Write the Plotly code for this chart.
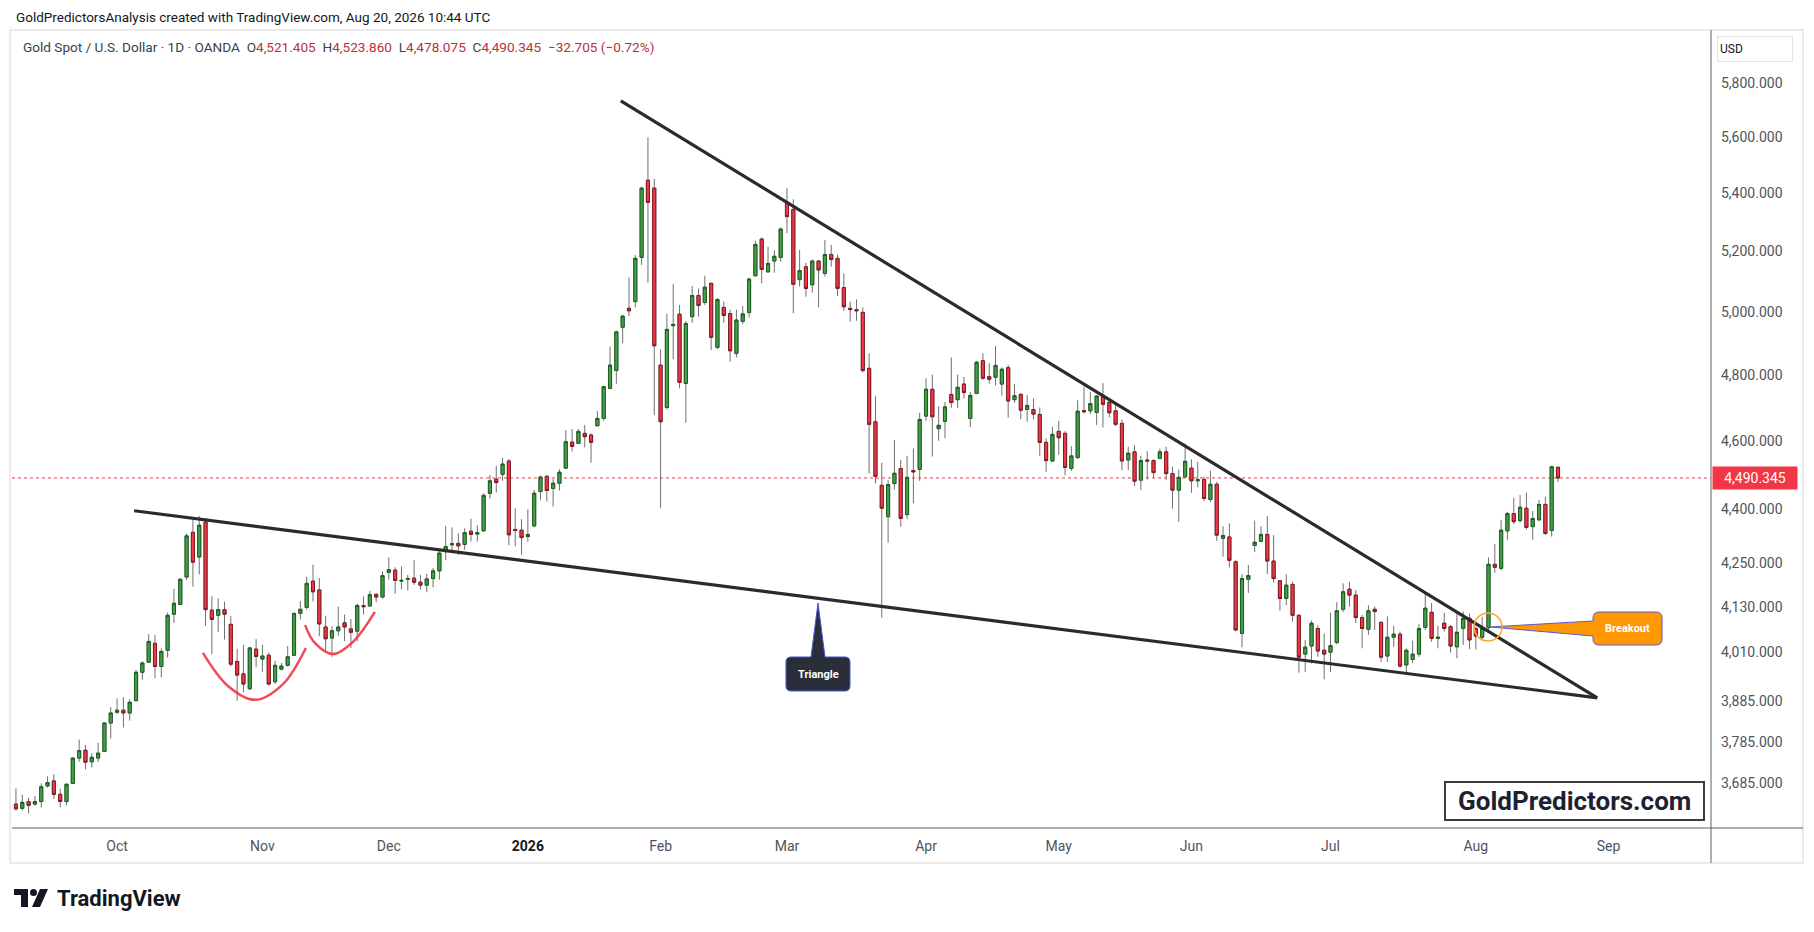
import numpy as np
import pandas as pd
import plotly.graph_objects as go

# OANDA XAUUSD daily bars (weekends + a few holidays have no bar)
holidays = ["2025-12-25", "2026-01-01", "2026-04-03"]
days = pd.bdate_range("2025-09-09", "2026-08-20")
days = days[~days.isin(pd.to_datetime(holidays))]

opens = [
    # Sep
    3635, 3625, 3641, 3635, 3641, 3678, 3690, 3658, 3641, 3684, 3745, 3764, 3736, 3745, 3761, 3831,
    # Oct
    3858, 3863, 3856, 3887, 3959, 3985, 4034, 3974, 4016, 4111, 4137, 4211, 4335, 4266, 4364, 4122,
    4108, 4123, 4084, 3987, 3955, 3917, 4019,
    # Nov
    3993, 4003, 3935, 3967, 3977, 4003, 4113, 4129, 4200, 4176, 4077, 4048, 4067, 4088, 4072, 4066,
    4134, 4133, 4164, 4157,
    # Dec
    4224, 4230, 4200, 4205, 4208, 4197, 4189, 4207, 4228, 4281, 4300, 4304, 4301, 4338, 4330, 4339,
    4446, 4487, 4501, 4540, 4343, 4341,
    # Jan
    4323, 4353, 4451, 4495, 4460, 4475, 4519, 4596, 4592, 4622, 4617, 4645, 4667, 4759, 4814, 4951,
    5012, 5034, 5180, 5446, 5418,
    # Feb
    4831, 4700, 4956, 4993, 4774, 4985, 5054, 5031, 5094, 4887, 5015, 4995, 4868, 4970, 4999, 5119,
    5242, 5132, 5168, 5180,
    # Mar
    5365, 5344, 5106, 5149, 5089, 5168, 5127, 5190, 5177, 5080, 5012, 5008, 4999, 4821, 4657, 4469,
    4379, 4474, 4518, 4385, 4512, 4515,
    # Apr
    4674, 4756, 4636, 4658, 4740, 4724, 4772, 4667, 4743, 4845, 4795, 4793, 4772, 4823, 4724, 4740,
    4694, 4694, 4679, 4595, 4540,
    # May
    4628, 4622, 4518, 4550, 4691, 4690, 4685, 4737, 4716, 4690, 4652, 4543, 4567, 4484, 4543, 4541,
    4548, 4567, 4503, 4455, 4494,
    # Jun
    4519, 4482, 4486, 4428, 4472, 4318, 4322, 4253, 4060, 4205, 4298, 4310, 4329, 4255, 4201, 4153,
    4191, 4108, 4006, 4027, 4073, 4016,
    # Jul
    4011, 4036, 4124, 4178, 4162, 4102, 4071, 4124, 4089, 4001, 4050, 4058, 3978, 3992, 4006, 4076,
    4116, 4047, 4087, 4078, 4025, 4073, 4100,
    # Aug
    4073, 4050, 4075, 4246, 4235, 4339, 4388, 4368, 4403, 4351, 4370, 4414, 4340, 4521.405,
]
highs = [
    3672, 3657, 3650, 3654, 3684, 3701, 3706, 3671, 3684, 3747, 3790, 3777, 3757, 3782, 3832, 3871,
    3893, 3896, 3891, 3965, 3987, 4058, 4056, 4021, 4115, 4179, 4207, 4332, 4377, 4381, 4374, 4159,
    4153, 4144, 4106, 4020, 4030, 4025, 4045,
    4030, 4010, 3989, 3983, 4027, 4115, 4146, 4212, 4245, 4208, 4107, 4079, 4131, 4110, 4098, 4139,
    4159, 4173, 4168, 4227,
    4265, 4238, 4240, 4217, 4258, 4217, 4220, 4236, 4286, 4353, 4349, 4332, 4346, 4373, 4355, 4446,
    4499, 4526, 4549, 4546, 4403, 4372,
    4400, 4456, 4497, 4500, 4487, 4516, 4632, 4635, 4635, 4647, 4622, 4689, 4766, 4890, 4940, 4990,
    5113, 5188, 5423, 5600, 5450,
    4881, 4994, 5092, 5023, 4971, 5085, 5077, 5119, 5096, 5045, 5034, 5008, 5008, 5020, 5112, 5237,
    5248, 5216, 5205, 5282,
    5418, 5379, 5205, 5162, 5173, 5171, 5239, 5222, 5190, 5127, 5034, 5041, 5015, 4868, 4736, 4535,
    4484, 4602, 4543, 4555, 4577, 4684,
    4790, 4801, 4704, 4717, 4855, 4801, 4794, 4748, 4844, 4868, 4837, 4891, 4824, 4832, 4773, 4745,
    4738, 4728, 4700, 4607, 4642,
    4660, 4629, 4584, 4722, 4764, 4748, 4737, 4775, 4724, 4717, 4664, 4582, 4587, 4555, 4569, 4545,
    4577, 4582, 4523, 4515, 4592,
    4545, 4538, 4494, 4512, 4479, 4352, 4360, 4257, 4219, 4244, 4368, 4352, 4381, 4327, 4203, 4219,
    4198, 4110, 4043, 4094, 4082, 4060,
    4115, 4143, 4194, 4198, 4176, 4109, 4135, 4132, 4093, 4105, 4080, 4065, 4021, 4041, 4085, 4167,
    4141, 4080, 4115, 4082, 4113, 4118, 4113,
    4078, 4104, 4265, 4302, 4370, 4393, 4433, 4441, 4448, 4395, 4427, 4436, 4526, 4523.860,
]
lows = [
    3619, 3620, 3613, 3631, 3627, 3674, 3647, 3627, 3632, 3683, 3736, 3718, 3722, 3735, 3760, 3793,
    3853, 3820, 3837, 3885, 3940, 3983, 3944, 3946, 3997, 4088, 4136, 4203, 4185, 4218, 4080, 4006,
    4064, 4044, 3974, 3887, 3908, 3914, 3972,
    3960, 3925, 3929, 3964, 3974, 4002, 4097, 4123, 4145, 4053, 4011, 3999, 4054, 4040, 4022, 4040,
    4110, 4131, 4143, 4153,
    4204, 4166, 4177, 4175, 4190, 4177, 4170, 4183, 4204, 4258, 4277, 4272, 4286, 4309, 4309, 4337,
    4431, 4448, 4482, 4299, 4296, 4272,
    4309, 4349, 4427, 4422, 4408, 4454, 4516, 4568, 4590, 4580, 4535, 4643, 4660, 4756, 4773, 4900,
    4987, 5015, 5155, 5096, 4677,
    4403, 4694, 4849, 4759, 4654, 4965, 4985, 5023, 4879, 4881, 4965, 4842, 4855, 4961, 4983, 5117,
    5094, 5129, 5129, 5166,
    5262, 4996, 5083, 5050, 5063, 5015, 5116, 5149, 5052, 5004, 4969, 4972, 4808, 4503, 4474, 4102,
    4306, 4457, 4351, 4372, 4417, 4482,
    4660, 4553, 4600, 4607, 4699, 4699, 4728, 4641, 4741, 4785, 4773, 4768, 4736, 4669, 4714, 4664,
    4657, 4664, 4555, 4508, 4538,
    4558, 4498, 4511, 4546, 4682, 4680, 4647, 4640, 4670, 4644, 4513, 4513, 4466, 4455, 4486, 4492,
    4545, 4484, 4402, 4364, 4489,
    4447, 4463, 4424, 4421, 4311, 4267, 4237, 4066, 4024, 4168, 4280, 4307, 4219, 4196, 4120, 4135,
    4091, 3958, 3960, 3982, 3999, 3941,
    3960, 4032, 4117, 4131, 4088, 4021, 4056, 4069, 3986, 3986, 4025, 3971, 3960, 3982, 3999, 4069,
    4038, 4021, 4065, 4010, 3995, 4030, 4019,
    4018, 4041, 4069, 4223, 4229, 4314, 4358, 4362, 4343, 4314, 4368, 4327, 4323, 4478.075,
]
closes = [
    3624, 3639, 3632, 3641, 3676, 3686, 3658, 3641, 3682, 3745, 3763, 3735, 3747, 3757, 3831, 3856,
    3863, 3856, 3883, 3959, 3983, 4039, 3974, 4013, 4108, 4140, 4205, 4325, 4252, 4355, 4123, 4097,
    4123, 4111, 3980, 3952, 3929, 4022, 4000,
    4001, 3929, 3977, 3975, 3999, 4113, 4124, 4194, 4171, 4085, 4046, 4067, 4077, 4077, 4063, 4134,
    4131, 4163, 4157, 4215,
    4231, 4202, 4202, 4207, 4197, 4189, 4206, 4228, 4277, 4295, 4303, 4297, 4334, 4329, 4334, 4440,
    4482, 4477, 4531, 4328, 4340, 4320,
    4329, 4446, 4493, 4454, 4475, 4507, 4597, 4583, 4628, 4612, 4595, 4667, 4764, 4831, 4936, 4987,
    5004, 5177, 5418, 5368, 4892,
    4657, 4944, 4960, 4777, 4963, 5054, 5021, 5081, 4919, 5041, 4989, 4876, 4974, 4994, 5108, 5224,
    5140, 5160, 5184, 5276,
    5319, 5091, 5136, 5077, 5168, 5138, 5190, 5173, 5077, 5017, 5008, 5004, 4814, 4649, 4495, 4403,
    4471, 4504, 4374, 4492, 4508, 4664,
    4756, 4672, 4646, 4702, 4715, 4762, 4746, 4737, 4840, 4790, 4787, 4830, 4818, 4720, 4736, 4692,
    4706, 4680, 4595, 4541, 4619,
    4609, 4521, 4555, 4689, 4687, 4712, 4735, 4710, 4684, 4649, 4540, 4563, 4481, 4541, 4540, 4506,
    4567, 4503, 4455, 4492, 4539,
    4482, 4485, 4431, 4472, 4327, 4326, 4257, 4069, 4207, 4215, 4307, 4329, 4255, 4207, 4153, 4189,
    4108, 3998, 4024, 4087, 4014, 4006,
    4028, 4120, 4171, 4162, 4102, 4073, 4120, 4118, 3998, 4050, 4058, 3975, 4016, 4006, 4073, 4127,
    4047, 4050, 4073, 4027, 4063, 4100, 4043,
    4053, 4073, 4246, 4238, 4341, 4388, 4365, 4406, 4349, 4374, 4414, 4332, 4523.05, 4490.345,
]

month_ticks = ["2025-10-01", "2025-11-03", "2025-12-01", "2026-01-02", "2026-02-02", "2026-03-02",
               "2026-04-01", "2026-05-01", "2026-06-01", "2026-07-01", "2026-08-03", "2026-09-01"]
month_labels = ["Oct", "Nov", "Dec", "<span style='color:#131722'><b>2026</b></span>", "Feb", "Mar",
                "Apr", "May", "Jun", "Jul", "Aug", "Sep"]
price_ticks = [3685, 3785, 3885, 4010, 4130, 4250, 4400, 4600, 4800, 5000, 5200, 5400, 5600, 5800]

# hand-drawn triangle lines and the two rounded bottoms
upper_x = ["2026-01-22 17:00", "2026-08-28 05:00"]
upper_y = [5733, 3894]
lower_x = ["2025-10-03 17:00", "2026-08-28 05:00"]
lower_y = [4396, 3894]
bowl1_x = ["2025-10-20 14:00", "2025-10-24 13:00", "2025-10-30 20:00", "2025-11-06 06:00", "2025-11-11 21:00"]
bowl1_y = [4009, 3924, 3889, 3929, 4022]
bowl2_x = ["2025-11-11 18:00", "2025-11-13 07:00", "2025-11-18 04:00", "2025-11-21 08:00", "2025-11-26 19:00"]
bowl2_y = [4082, 4035, 4006, 4038, 4117]

W, H = 1798, 916
L, R, T, B = 4, 95, 22, 96
PW, PH = W - L - R, H - T - B
FONT = "Roboto, 'Open Sans', sans-serif"


def px(X):
    # page pixel -> paper x (the page body keeps an 8px margin)
    return (X - 8 - L) / PW


def py(Y):
    return 1 - (Y - 8 - T) / PH


def svg(cmds):
    out = []
    for c in cmds:
        if c[0] == "Z":
            out.append("Z")
        else:
            pts = " ".join(f"{px(x):.5f},{py(y):.5f}" for x, y in c[1:])
            out.append(f"{c[0]} {pts}")
    return " ".join(out)


o, h, l, c = (np.array(v, dtype=float) for v in (opens, highs, lows, closes))

fig = go.Figure()
# wicks
fig.add_trace(go.Candlestick(
    x=days, open=o, high=h, low=l, close=c, whiskerwidth=0,
    increasing=dict(line=dict(color="#707070", width=1), fillcolor="#43a047"),
    decreasing=dict(line=dict(color="#707070", width=1), fillcolor="#f23645"),
    hoverinfo="skip",
))
# bodies with darker outline
fig.add_trace(go.Candlestick(
    x=days, open=o, high=np.maximum(o, c), low=np.minimum(o, c), close=c, whiskerwidth=0,
    increasing=dict(line=dict(color="#1b5e20", width=1), fillcolor="#43a047"),
    decreasing=dict(line=dict(color="#7f1d24", width=1), fillcolor="#f23645"),
))

for xs, ys in ((upper_x, upper_y), (lower_x, lower_y)):
    fig.add_trace(go.Scatter(x=xs, y=ys, mode="lines", line=dict(color="#2b2b2b", width=3.2),
                             hoverinfo="skip"))
for xs, ys in ((bowl1_x, bowl1_y), (bowl2_x, bowl2_y)):
    fig.add_trace(go.Scatter(x=xs, y=ys, mode="lines", line=dict(color="#f23645", width=2.5, shape="spline"),
                             opacity=0.9, hoverinfo="skip"))

last_c = closes[-1]
chg = closes[-1] - closes[-2]
pct = chg / closes[-2] * 100
red = "#b8333b"


def val(s):
    return f"<span style='color:{red}'>{s}</span>"


legend_txt = ("Gold Spot / U.S. Dollar · 1D · OANDA&nbsp;&nbsp;"
              f"O{val(f'{opens[-1]:,.3f}')}&nbsp; H{val(f'{highs[-1]:,.3f}')}&nbsp; "
              f"L{val(f'{lows[-1]:,.3f}')}&nbsp; C{val(f'{last_c:,.3f}')}&nbsp; "
              + val(f"{chg:,.3f} ({pct:.2f}%)".replace("-", "−")))

shapes = [
    # chart frame
    dict(type="rect", xref="paper", yref="paper", x0=px(10), x1=px(1803), y0=py(863), y1=py(30),
         line=dict(color="#ebebeb", width=2)),
    dict(type="line", xref="paper", yref="paper", x0=px(12), x1=px(1803), y0=0, y1=0,
         line=dict(color="#5d606b", width=1)),
    dict(type="line", xref="paper", yref="paper", x0=1, x1=1, y0=py(863), y1=py(30),
         line=dict(color="#5d606b", width=1)),
    # last price line
    dict(type="line", xref="paper", yref="y", x0=0, x1=1, y0=last_c, y1=last_c, layer="below",
         line=dict(color="#f23645", width=1, dash="dot")),
    # "Triangle" callout
    dict(type="path", xref="paper", yref="paper", fillcolor="#2a2e39", line=dict(color="#4b55d6", width=1),
         path=svg([("M", (791, 657)), ("L", (811, 657)), ("L", (818, 603)), ("L", (825, 657)), ("L", (845, 657)),
                   ("Q", (850, 657), (850, 662)), ("L", (850, 686)), ("Q", (850, 691), (845, 691)),
                   ("L", (791, 691)), ("Q", (786, 691), (786, 686)), ("L", (786, 662)),
                   ("Q", (786, 657), (791, 657)), ("Z",)])),
    # "Breakout" callout
    dict(type="path", xref="paper", yref="paper", fillcolor="#ff9800", line=dict(color="#5a5ad8", width=1),
         path=svg([("M", (1599, 612)), ("L", (1656, 612)), ("Q", (1662, 612), (1662, 618)), ("L", (1662, 639)),
                   ("Q", (1662, 645), (1656, 645)), ("L", (1599, 645)), ("Q", (1593, 645), (1593, 639)),
                   ("L", (1593, 636)), ("L", (1490, 627)), ("L", (1593, 621)), ("L", (1593, 618)),
                   ("Q", (1593, 612), (1599, 612)), ("Z",)])),
    dict(type="circle", xref="paper", yref="paper", x0=px(1474), x1=px(1502), y0=py(641), y1=py(613),
         line=dict(color="#ffa726", width=1.5)),
    # watermark box
    dict(type="rect", xref="paper", yref="paper", x0=px(1445), x1=px(1704), y0=py(820), y1=py(782),
         fillcolor="white", line=dict(color="#3c3c3c", width=2)),
    # TradingView logo
    dict(type="path", xref="paper", yref="paper", fillcolor="#131722", line=dict(width=0),
         path=svg([("M", (14, 889)), ("L", (28, 889)), ("L", (28, 907)), ("L", (21, 907)), ("L", (21, 895)),
                   ("L", (14, 895)), ("Z",)])),
    dict(type="circle", xref="paper", yref="paper", x0=px(30), x1=px(37), y0=py(896), y1=py(889),
         fillcolor="#131722", line=dict(width=0)),
    dict(type="path", xref="paper", yref="paper", fillcolor="#131722", line=dict(width=0),
         path=svg([("M", (40, 889)), ("L", (48, 889)), ("L", (40, 907)), ("L", (32, 907)), ("Z",)])),
]

ann = [
    dict(x=px(14), y=py(17), xanchor="left", text="GoldPredictorsAnalysis created with TradingView.com, Aug 20, 2026 10:44 UTC",
         font=dict(size=13.5, color="#131722")),
    dict(x=px(21), y=py(47), xanchor="left", text=legend_txt, font=dict(size=13.6, color="#3b3f4a")),
    dict(x=px(1717), y=py(49), xanchor="left", text="USD", align="left", width=70, height=20, borderpad=2,
         bordercolor="#e0e3eb", borderwidth=1, bgcolor="white", font=dict(size=12, color="#131722")),
    dict(x=px(1712), y=np.log10(last_c), yref="y", xanchor="left", text=f"{last_c:,.3f}", width=80, height=18,
         borderpad=2, bgcolor="#f23645", font=dict(size=14, color="white")),
    dict(x=px(818), y=py(674), xanchor="center", text="<b>Triangle</b>", font=dict(size=11, color="white")),
    dict(x=px(1627.5), y=py(628.5), xanchor="center", text="<b>Breakout</b>", font=dict(size=11, color="white")),
    dict(x=px(1574.5), y=py(801), xanchor="center", text="<b>GoldPredictors.com</b>",
         font=dict(size=26, color="#1c2230")),
    dict(x=px(55), y=py(898), xanchor="left", text="<b>TradingView</b>", font=dict(size=22, color="#131722")),
]
for a in ann:
    a.setdefault("xref", "paper")
    a.setdefault("yref", "paper")
    a["showarrow"] = False
    a.setdefault("yanchor", "middle")

fig.update_layout(
    width=W, height=H, margin=dict(l=L, r=R, t=T, b=B),
    paper_bgcolor="white", plot_bgcolor="white", showlegend=False,
    font=dict(family=FONT, size=14, color="#131722"),
    shapes=shapes, annotations=ann, hovermode=False,
)
fig.update_xaxes(
    type="date", range=["2025-09-08 09:00", "2026-09-23 05:00"],
    rangebreaks=[dict(bounds=["sat", "mon"]), dict(values=holidays)],
    rangeslider_visible=False, tickvals=month_ticks, ticktext=month_labels,
    showgrid=False, zeroline=False, showline=False, ticks="", ticklabelstandoff=8,
    tickfont=dict(size=14, color="#50535e"),
)
fig.update_yaxes(
    type="log", side="right", range=[np.log10(3579.1), np.log10(6002.6)],
    tickvals=price_ticks, ticktext=[f"{v:,.3f}" for v in price_ticks],
    showgrid=False, zeroline=False, showline=False, ticks="", ticklabelstandoff=9,
    tickfont=dict(size=14, color="#50535e"),
)

fig.write_html("out.html")
